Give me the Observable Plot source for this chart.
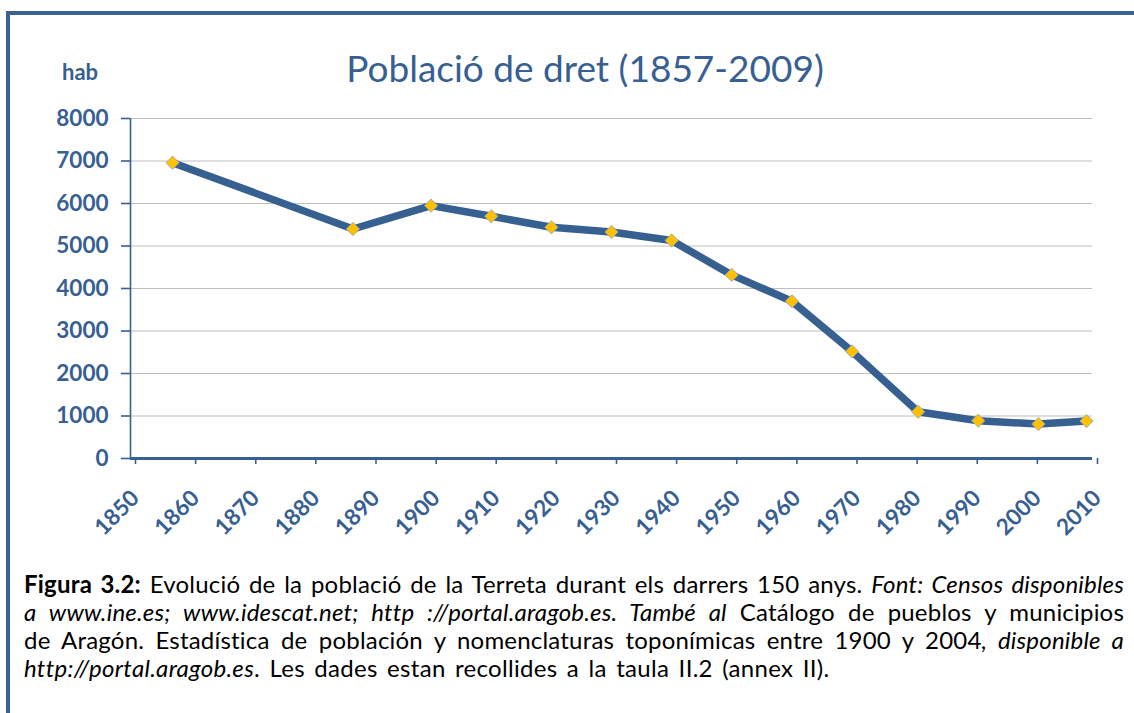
<!DOCTYPE html>
<html><head><meta charset="utf-8">
<script src="https://cdn.jsdelivr.net/npm/d3@7"></script>
<script src="https://cdn.jsdelivr.net/npm/@observablehq/plot@0.6"></script>
<style>
html,body{margin:0;padding:0;background:#fff;overflow:hidden}
#page{position:relative;width:1134px;height:713px;overflow:hidden;background:#fff}
#frame{position:absolute;left:6px;top:11px;width:1300px;height:900px;border-left:4px solid #3b6191;border-top:4px solid #3b6191;box-sizing:border-box}
#chart{position:absolute;left:0;top:0}
#title{position:absolute;left:0;width:1170px;text-align:center;top:49px;font-family:Lato,sans-serif;font-size:37px;line-height:37px;color:#375f92}
#hab{position:absolute;left:62px;top:61px;font-family:Lato,sans-serif;font-weight:700;font-size:22px;line-height:22px;color:#375f92}
#caption{position:absolute;left:24px;top:570px;width:1100px;font-family:Lato,sans-serif;font-size:24px;line-height:28px;letter-spacing:0.2px;color:#000}
#caption .j{text-align:justify;text-align-last:justify;white-space:nowrap}
#caption .l{text-align:left;white-space:nowrap;word-spacing:3px;letter-spacing:0.3px}
</style></head>
<body>
<div id="page">
  <div id="frame"></div>
  <div id="chart"></div>
  <div id="title">Població de dret (1857-2009)</div>
  <div id="hab">hab</div>
  <div id="caption">
    <div class="j"><b>Figura 3.2:</b> Evolució de la població de la Terreta durant els darrers 150 anys. <i>Font: Censos disponibles</i></div>
    <div class="j"><i>a www.ine.es; www.idescat.net; http ://portal.aragob.es. També al</i> Catálogo de pueblos y municipios</div>
    <div class="j">de Aragón. Estadística de población y nomenclaturas toponímicas entre 1900 y 2004<i>, disponible a</i></div>
    <div class="l"><i>http://portal.aragob.es</i>. Les dades estan recollides a la taula II.2 (annex II).</div>
  </div>
</div>
<script>
const years = [1857, 1887, 1900, 1910, 1920, 1930, 1940, 1950, 1960, 1970, 1981, 1991, 2001, 2009];
const population = [6960, 5400, 5950, 5700, 5440, 5330, 5130, 4320, 3700, 2520, 1100, 890, 810, 880];
const xTicks = [1850, 1860, 1870, 1880, 1890, 1900, 1910, 1920, 1930, 1940, 1950, 1960, 1970, 1980, 1990, 2000, 2010];
const yTicks = [0, 1000, 2000, 3000, 4000, 5000, 6000, 7000, 8000];

const data = years.map((y, i) => ({year: y, pop: population[i]}));
const blue = "#375f92";

const chart = Plot.plot({
  width: 1134,
  height: 545,
  marginTop: 118,
  marginLeft: 130,
  marginRight: 42,
  marginBottom: 87,
  style: {fontFamily: "Lato, sans-serif", fontSize: "22.5px", fontWeight: "700", color: blue, background: "transparent", overflow: "visible"},
  x: {domain: [1850, 2010]},
  y: {domain: [0, 8000]},
  marks: [
    Plot.gridY(yTicks, {stroke: "#bfbfbf", strokeOpacity: 1, strokeWidth: 1.2}),
    Plot.axisY(yTicks, {tickSize: 9, tickPadding: 13, tickFormat: d => String(d), strokeWidth: 1.6, label: null}),
    Plot.axisX(xTicks, {tickSize: 6, tickPadding: 30, tickRotate: -45, dx: 5, tickFormat: d => String(d), strokeWidth: 1.6, label: null}),
    Plot.ruleX([1850], {stroke: blue, strokeWidth: 1.6}),
    Plot.ruleY([0], {stroke: blue, strokeWidth: 3}),
    Plot.line(data, {x: "year", y: "pop", stroke: "#36608f", strokeWidth: 7.5, strokeLinejoin: "round", strokeLinecap: "butt"}),
    Plot.dot(data, {x: "year", y: "pop", symbol: "diamond2", r: 6, fill: "#ffc000", stroke: "#8aa6c8", strokeWidth: 0.8})
  ]
});
document.getElementById("chart").appendChild(chart);
</script>
</body></html>
